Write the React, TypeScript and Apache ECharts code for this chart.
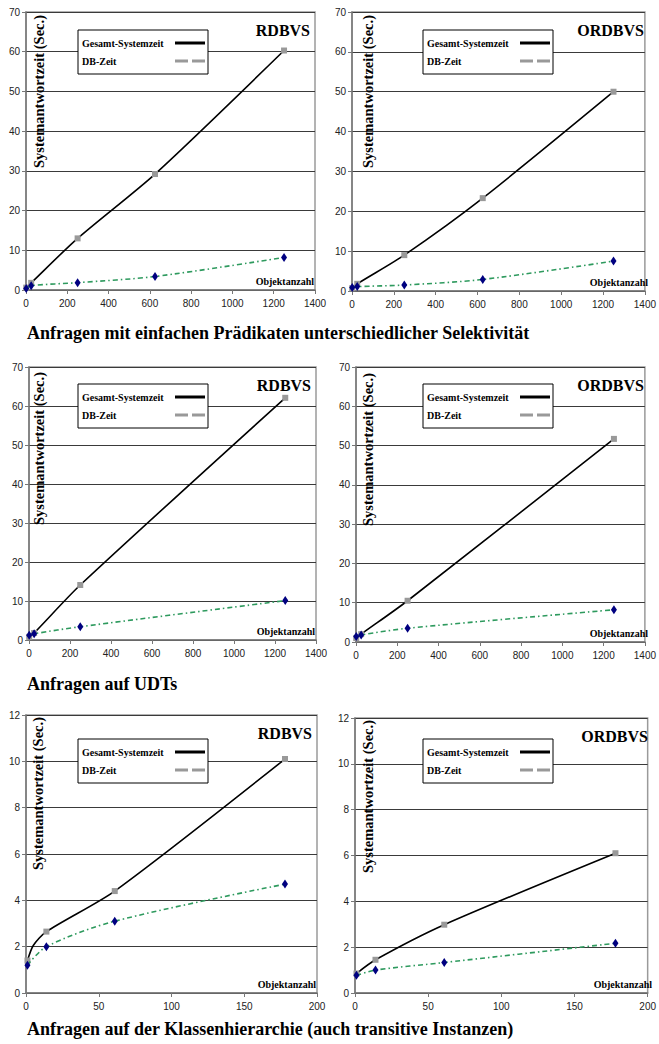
import React, { useEffect, useRef } from "react";
import * as echarts from "echarts";

// ---------- data ----------
const sectionTitles = [
  "Anfragen mit einfachen Prädikaten unterschiedlicher Selektivität",
  "Anfragen auf UDTs",
  "Anfragen auf der Klassenhierarchie (auch transitive Instanzen)",
];
const systemNames = ["RDBVS", "ORDBVS"];
const seriesNames = ["Gesamt-Systemzeit", "DB-Zeit"];
const yAxisName = "Systemantwortzeit (Sec.)";
const xAxisName = "Objektanzahl";

// Selektivität
const selX = [1, 25, 250, 625, 1250];
const selRdbGesamt = [0.6, 1.8, 13.0, 29.2, 60.3];
const selRdbDb = [0.4, 1.1, 1.85, 3.4, 8.2];
const selOrdGesamt = [0.7, 1.8, 9.0, 23.3, 50.0];
const selOrdDb = [0.9, 1.1, 1.5, 2.9, 7.5];

// UDTs
const udtX = [1, 25, 250, 1250];
const udtRdbGesamt = [0.8, 1.8, 14.1, 62.1];
const udtRdbDb = [1.2, 1.6, 3.4, 10.1];
const udtOrdGesamt = [1.0, 2.0, 10.5, 51.7];
const udtOrdDb = [1.4, 1.8, 3.5, 8.2];

// Klassenhierarchie
const hierX = [1, 14, 61, 178];
const hierRdbGesamtX = [1, 5, 14, 61, 178];
const hierRdbGesamt = [1.4, 2.05, 2.65, 4.4, 10.1];
const hierRdbDb = [1.2, 2.0, 3.1, 4.7];
const hierOrdGesamt = [0.85, 1.45, 2.98, 6.1];
const hierOrdDb = [0.77, 1.0, 1.33, 2.17];

// axis ranges: [max, step]
const xRangeObj = [1400, 200];
const xRangeHier = [200, 50];
const yRangeObj = [70, 10];
const yRangeHier = [12, 2];
const hiddenMarkerX = [5];

// ---------- chart definitions ----------
const charts = [
  { sys: 0, gx: selX, g: selRdbGesamt, dx: selX, d: selRdbDb, xr: xRangeObj, yr: yRangeObj },
  { sys: 1, gx: selX, g: selOrdGesamt, dx: selX, d: selOrdDb, xr: xRangeObj, yr: yRangeObj },
  { sys: 0, gx: udtX, g: udtRdbGesamt, dx: udtX, d: udtRdbDb, xr: xRangeObj, yr: yRangeObj },
  { sys: 1, gx: udtX, g: udtOrdGesamt, dx: udtX, d: udtOrdDb, xr: xRangeObj, yr: yRangeObj },
  { sys: 0, gx: hierRdbGesamtX, g: hierRdbGesamt, dx: hierX, d: hierRdbDb, xr: xRangeHier, yr: yRangeHier },
  { sys: 1, gx: hierX, g: hierOrdGesamt, dx: hierX, d: hierOrdDb, xr: xRangeHier, yr: yRangeHier },
];

// layout (pixels)
const layouts = [
  { left: 26, top: 12, w: 289, h: 278, legX: 78, legY: 30, nameX: 39, nameY: 15 },
  { left: 352, top: 12, w: 297, h: 279, legX: 423, legY: 30, nameX: 368, nameY: 15 },
  { left: 29, top: 367, w: 287, h: 273, legX: 78, legY: 384, nameX: 39, nameY: 372 },
  { left: 356, top: 367, w: 293, h: 275, legX: 423, legY: 384, nameX: 368, nameY: 373 },
  { left: 26, top: 715, w: 291, h: 278, legX: 78, legY: 739, nameX: 38, nameY: 717 },
  { left: 355, top: 718, w: 298, h: 275, legX: 423, legY: 739, nameX: 368, nameY: 720 },
];
const titleLayout = [
  { x: 27, y: 333 },
  { x: 27, y: 684 },
  { x: 27, y: 1029 },
];

const SERIF = '"Liberation Serif", "Times New Roman", serif';
const NARROW = '"Liberation Sans Narrow", "Arial Narrow", "Liberation Sans", sans-serif';

function buildOption() {
  const grid = layouts.map((l) => ({
    left: l.left,
    top: l.top,
    width: l.w,
    height: l.h,
    show: true,
    borderColor: "#9a9a9a",
    borderWidth: 1.5,
    backgroundColor: "transparent",
  }));

  const xAxis = charts.map((c, i) => ({
    gridIndex: i,
    type: "value",
    min: 0,
    max: c.xr[0],
    interval: c.xr[1],
    axisLine: { show: true, onZero: false, lineStyle: { color: "#777", width: 1.5 } },
    axisTick: { show: true, length: 4, lineStyle: { color: "#777" } },
    axisLabel: {
      color: "#222",
      fontFamily: NARROW,
      fontSize: 10,
      margin: 8,
      formatter: (v: number) => String(v),
    },
    splitLine: { show: false },
  }));

  const yAxis = charts.map((c, i) => ({
    gridIndex: i,
    type: "value",
    min: 0,
    max: c.yr[0],
    interval: c.yr[1],
    axisLine: { show: true, onZero: false, lineStyle: { color: "#777", width: 1.5 } },
    axisTick: { show: true, length: 4, lineStyle: { color: "#777" } },
    axisLabel: {
      color: "#222",
      fontFamily: NARROW,
      fontSize: 10,
      margin: 6,
      formatter: (v: number) => String(v),
    },
    splitLine: { show: true, lineStyle: { color: "#3a3a3a", width: 1 } },
  }));

  const series: any[] = [];
  charts.forEach((c, i) => {
    series.push({
      name: seriesNames[0],
      type: "line",
      xAxisIndex: i,
      yAxisIndex: i,
      data: c.gx.map((x, k) => [x, c.g[k]]),
      smooth: 0.25,
      symbol: "rect",
      symbolSize: (v: number[]) => (hiddenMarkerX.includes(v[0]) && i === 4 ? 0 : 6),
      itemStyle: { color: "#999999" },
      lineStyle: { color: "#000", width: 1.6 },
      z: 3,
    });
    series.push({
      name: seriesNames[1],
      type: "line",
      xAxisIndex: i,
      yAxisIndex: i,
      data: c.dx.map((x, k) => [x, c.d[k]]),
      smooth: 0.3,
      symbol: "diamond",
      symbolSize: [6, 9],
      itemStyle: { color: "#000080" },
      lineStyle: { color: "#2E9A5E", width: 1.6, type: [5, 3, 1.5, 3] },
      z: 4,
    });
  });

  const graphic: any[] = [];
  const txt = (x: number, y: number, text: string, font: string, align: string, valign: string, extra: any = {}) => ({
    type: "text",
    x,
    y,
    z: 100,
    ...extra,
    style: {
      text,
      font,
      fill: "#000",
      align,
      textAlign: align,
      verticalAlign: valign,
      textVerticalAlign: valign,
    },
  });

  charts.forEach((c, i) => {
    const l = layouts[i];
    graphic.push(
      txt(l.nameX, l.nameY, yAxisName, `bold 14.5px ${SERIF}`, "right", "middle", { rotation: Math.PI / 2 })
    );
    graphic.push(txt(l.left + l.w - 5, l.top + 10, systemNames[c.sys], `bold 16px ${SERIF}`, "right", "top"));
    graphic.push(txt(l.left + l.w - 1, l.top + l.h - 4, xAxisName, `bold 10px ${SERIF}`, "right", "bottom"));
    const bx = l.legX;
    const by = l.legY;
    graphic.push({
      type: "rect",
      z: 99,
      shape: { x: bx, y: by, width: 130, height: 44 },
      style: { fill: "#fff", stroke: "#000", lineWidth: 1 },
    });
    graphic.push(txt(bx + 4, by + 13, seriesNames[0], `bold 10px ${SERIF}`, "left", "middle"));
    graphic.push(txt(bx + 4, by + 31, seriesNames[1], `bold 10px ${SERIF}`, "left", "middle"));
    graphic.push({
      type: "line",
      z: 100,
      shape: { x1: bx + 97, y1: by + 13, x2: bx + 127, y2: by + 13 },
      style: { stroke: "#000", lineWidth: 3 },
    });
    graphic.push({
      type: "line",
      z: 100,
      shape: { x1: bx + 97, y1: by + 31, x2: bx + 127, y2: by + 31 },
      style: { stroke: "#999", lineWidth: 3, lineDash: [13, 4] },
    });
  });

  sectionTitles.forEach((t, k) => {
    graphic.push(txt(titleLayout[k].x, titleLayout[k].y, t, `bold 18px ${SERIF}`, "left", "middle"));
  });

  return {
    animation: false,
    backgroundColor: "#fff",
    grid,
    xAxis,
    yAxis,
    series,
    graphic,
  };
}

export default function App() {
  const ref = useRef<HTMLDivElement>(null);
  useEffect(() => {
    if (!ref.current) return;
    const chart = echarts.init(ref.current, undefined, { renderer: "svg" });
    chart.setOption(buildOption() as any);
    return () => chart.dispose();
  }, []);
  return (
    <div
      ref={ref}
      style={{ position: "absolute", left: 0, top: 0, width: 659, height: 1044, background: "#fff" }}
    />
  );
}
